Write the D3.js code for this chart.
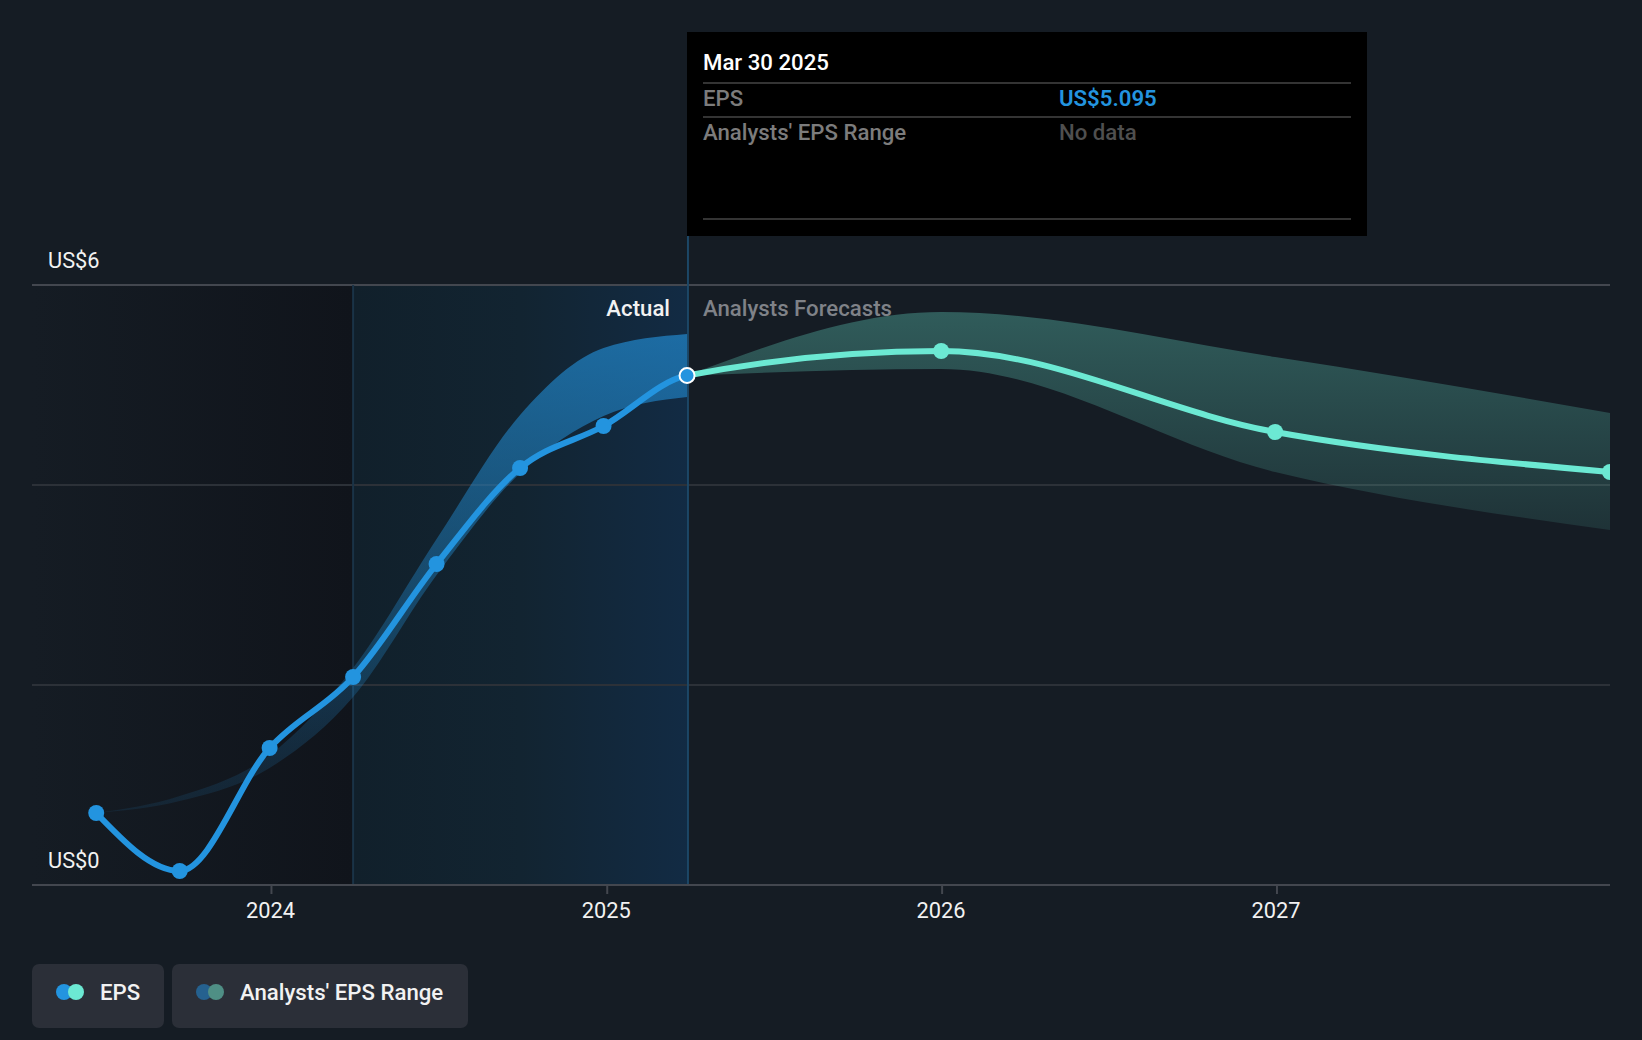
<!DOCTYPE html>
<html>
<head>
<meta charset="utf-8">
<script src="https://cdn.jsdelivr.net/npm/d3@7"></script>
<style>
    html, body { margin: 0; padding: 0; background: #151c24; }
    svg { display: block; }
    text { font-family: Roboto, sans-serif; }
</style>
</head>
<body>
<div id="chart"></div>
<script>
// values
const actualDates = ["2023-06-24", "2023-09-23", "2023-12-30", "2024-03-30", "2024-06-29", "2024-09-28", "2024-12-28", "2025-03-29"];
const actualEps = [0.72, 0.14, 1.37, 2.08, 3.21, 4.17, 4.59, 5.095];
const actualHigh = [0.72, 0.89, 1.30, 2.17, 3.46, 4.70, 5.37, 5.51];
const actualLow = [0.72, 0.84, 1.17, 1.88, 3.10, 4.12, 4.69, 4.88];

const forecastDates = ["2025-03-29", "2025-12-31", "2026-12-30", "2027-12-30"];
const forecastEps = [5.095, 5.34, 4.53, 4.13];
const forecastHigh = [5.095, 5.73, 5.28, 4.72];
const forecastLow = [5.095, 5.16, 4.13, 3.55];

const yearTicks = ["2024-01-01", "2025-01-01", "2026-01-01", "2027-01-01"];
const yearLabels = ["2024", "2025", "2026", "2027"];
const yTicks = [0, 2, 4, 6];
const yLabels = ["US$0", "", "", "US$6"];

const tooltipDate = "Mar 30 2025";
const tooltipRows = [["EPS", "US$5.095"], ["Analysts' EPS Range", "No data"]];
const legendItems = ["EPS", "Analysts' EPS Range"];

const parse = d3.utcParse("%Y-%m-%d");
const width = 1642, height = 1040;
const plotLeft = 32, plotRight = 1610, plotTop = 285, plotBottom = 885;
const labelSize = 22.2, tickSize = 21.8;

const x = d3.scaleUtc().domain([parse("2023-04-15"), parse("2027-12-30")]).range([plotLeft, plotRight]);
const y = d3.scaleLinear().domain([0, 6]).range([plotBottom, plotTop]);

const blue = "#2394df", mint = "#6ce9d3";
const dividerDate = parse("2025-03-30");
const zoneStart = parse("2024-03-30");
const lastActual = x(parse(actualDates[actualDates.length - 1]));

const svg = d3.select("#chart").append("svg").attr("width", width).attr("height", height);
const defs = svg.append("defs");

function gradient(id, horizontal, stops) {
    const g = defs.append("linearGradient").attr("id", id)
        .attr("x1", 0).attr("y1", 0).attr("x2", horizontal ? 1 : 0).attr("y2", horizontal ? 0 : 1);
    stops.forEach(([offset, color, opacity]) => {
        g.append("stop").attr("offset", offset).attr("stop-color", color).attr("stop-opacity", opacity);
    });
}
gradient("pastZone", true, [[0, "#151c24", 1], [1, "#10141b", 1]]);
gradient("actualZone", true, [[0, "#11202b", 1], [0.5, "#122431", 1], [1, "#122b44", 1]]);
gradient("blueBand", false, [[0, blue, 0.62], [1, blue, 0.1]]);
gradient("mintBand", false, [[0, mint, 0.31], [1, mint, 0.11]]);

function clip(id, x0, x1) {
    defs.append("clipPath").attr("id", id).append("rect")
        .attr("x", x0).attr("y", 0).attr("width", x1 - x0).attr("height", height);
}
clip("plotClip", plotLeft, plotRight);
clip("actualClip", plotLeft, lastActual);
clip("forecastClip", lastActual, plotRight);

// shaded zones behind the chart
svg.append("rect").attr("x", plotLeft).attr("y", plotTop).attr("width", x(zoneStart) - plotLeft).attr("height", plotBottom - plotTop)
    .attr("fill", "url(#pastZone)");
svg.append("rect").attr("x", x(zoneStart)).attr("y", plotTop).attr("width", x(dividerDate) - x(zoneStart)).attr("height", plotBottom - plotTop)
    .attr("fill", "url(#actualZone)");

// y axis is only used for the grid lines
const yAxis = svg.append("g").attr("transform", `translate(${plotLeft},0)`)
    .call(d3.axisLeft(y).offset(0).tickValues(yTicks).tickSize(-(plotRight - plotLeft)).tickFormat(""));
yAxis.select(".domain").remove();
yAxis.selectAll(".tick line")
    .attr("stroke", d => (d === 0 || d === 6) ? "#43474f" : "#2c3138")
    .attr("stroke-width", 2);

svg.append("line").attr("x1", x(zoneStart)).attr("x2", x(zoneStart)).attr("y1", plotTop).attr("y2", plotBottom)
    .attr("stroke", "#1a3347").attr("stroke-width", 2);
svg.append("line").attr("x1", x(dividerDate)).attr("x2", x(dividerDate)).attr("y1", 236).attr("y2", plotBottom)
    .attr("stroke", "#1c4766").attr("stroke-width", 2);

const plot = svg.append("g").attr("clip-path", "url(#plotClip)");

const band = (dates) => d3.area()
    .x((d, i) => x(parse(dates[i])))
    .y0(d => y(d[0]))
    .y1(d => y(d[1]))
    .curve(d3.curveMonotoneX);

plot.append("path")
    .attr("d", band(actualDates)(d3.zip(actualLow, actualHigh)))
    .attr("fill", "url(#blueBand)");
plot.append("path")
    .attr("d", band(forecastDates)(d3.zip(forecastLow, forecastHigh)))
    .attr("fill", "url(#mintBand)");

// the EPS line is one curve, only the colour changes at the last actual point
const allDates = actualDates.concat(forecastDates.slice(1));
const allEps = actualEps.concat(forecastEps.slice(1));
const epsLine = d3.line()
    .x((d, i) => x(parse(allDates[i])))
    .y(d => y(d))
    .curve(d3.curveMonotoneX);

plot.append("path").attr("d", epsLine(allEps)).attr("clip-path", "url(#forecastClip)")
    .attr("fill", "none").attr("stroke", mint).attr("stroke-width", 6);
plot.append("path").attr("d", epsLine(allEps)).attr("clip-path", "url(#actualClip)")
    .attr("fill", "none").attr("stroke", blue).attr("stroke-width", 6);

plot.selectAll(".forecast-dot").data(forecastEps.slice(1)).enter().append("circle")
    .attr("cx", (d, i) => x(parse(forecastDates[i + 1])))
    .attr("cy", d => y(d))
    .attr("r", 8)
    .attr("fill", mint);
plot.selectAll(".actual-dot").data(actualEps.slice(0, -1)).enter().append("circle")
    .attr("cx", (d, i) => x(parse(actualDates[i])))
    .attr("cy", d => y(d))
    .attr("r", 8)
    .attr("fill", blue);
plot.append("circle")
    .attr("cx", lastActual)
    .attr("cy", y(actualEps[actualEps.length - 1]))
    .attr("r", 7.5)
    .attr("fill", blue).attr("stroke", "#fff").attr("stroke-width", 2);

// x axis
const xAxis = svg.append("g").attr("transform", `translate(0,${plotBottom})`)
    .call(d3.axisBottom(x).offset(0).tickValues(yearTicks.map(parse)).tickSizeInner(9).tickSizeOuter(0).tickPadding(9)
        .tickFormat((d, i) => yearLabels[i]));
xAxis.select(".domain").attr("stroke", "#43474f").attr("stroke-width", 2);
xAxis.selectAll(".tick line").attr("stroke", "#43474f").attr("stroke-width", 2);
xAxis.selectAll(".tick text")
    .attr("dx", -1)
    .attr("fill", "#f2f2f2").attr("font-size", tickSize).attr("font-family", "Roboto, sans-serif");

// y labels sit above their grid line
svg.selectAll(".y-label").data(yTicks).enter().append("text")
    .attr("x", 48)
    .attr("y", d => y(d) - 17.5)
    .attr("font-size", tickSize)
    .attr("fill", "#f2f2f2")
    .text((d, i) => yLabels[i]);

svg.append("text").attr("x", 670).attr("y", 316).attr("text-anchor", "end")
    .attr("font-size", labelSize).attr("font-weight", 500).attr("fill", "#f2f2f2").text("Actual");
svg.append("text").attr("x", 703).attr("y", 316)
    .attr("font-size", labelSize).attr("font-weight", 500).attr("fill", "#7f8288").text("Analysts Forecasts");

// tooltip
const tip = svg.append("g");
tip.append("rect").attr("x", 687).attr("y", 32).attr("width", 680).attr("height", 204).attr("fill", "#000");
tip.append("text").attr("x", 703).attr("y", 70).attr("font-size", labelSize).attr("font-weight", 500)
    .attr("fill", "#fff").text(tooltipDate);
[83, 117, 219].forEach(ly => {
    tip.append("line").attr("x1", 703).attr("x2", 1351).attr("y1", ly).attr("y2", ly)
        .attr("stroke", "#343434").attr("stroke-width", 2);
});
tooltipRows.forEach(([name, value], i) => {
    const rowY = 106 + i * 34;
    tip.append("text").attr("x", 703).attr("y", rowY).attr("font-size", labelSize).attr("font-weight", 500)
        .attr("fill", "#7c7c7c").text(name);
    tip.append("text").attr("x", 1059).attr("y", rowY).attr("font-size", labelSize).attr("font-weight", i === 0 ? 600 : 500)
        .attr("fill", i === 0 ? blue : "#4f4f4f").text(value);
});

// legend
const legendBoxes = [
    {x: 32, w: 132, a: blue, b: mint},
    {x: 172, w: 296, a: "#25618f", b: "#4f8f85"}
];
legendBoxes.forEach((b, i) => {
    const g = svg.append("g").attr("transform", `translate(${b.x},964)`);
    g.append("rect").attr("width", b.w).attr("height", 64).attr("rx", 7).attr("fill", "#2b2f38");
    g.append("circle").attr("cx", 32).attr("cy", 28).attr("r", 8).attr("fill", b.a);
    g.append("circle").attr("cx", 44).attr("cy", 28).attr("r", 8).attr("fill", b.b);
    g.append("text").attr("x", 68).attr("y", 36).attr("font-size", labelSize).attr("font-weight", 500)
        .attr("fill", "#f2f2f2").text(legendItems[i]);
});
</script>
</body>
</html>
